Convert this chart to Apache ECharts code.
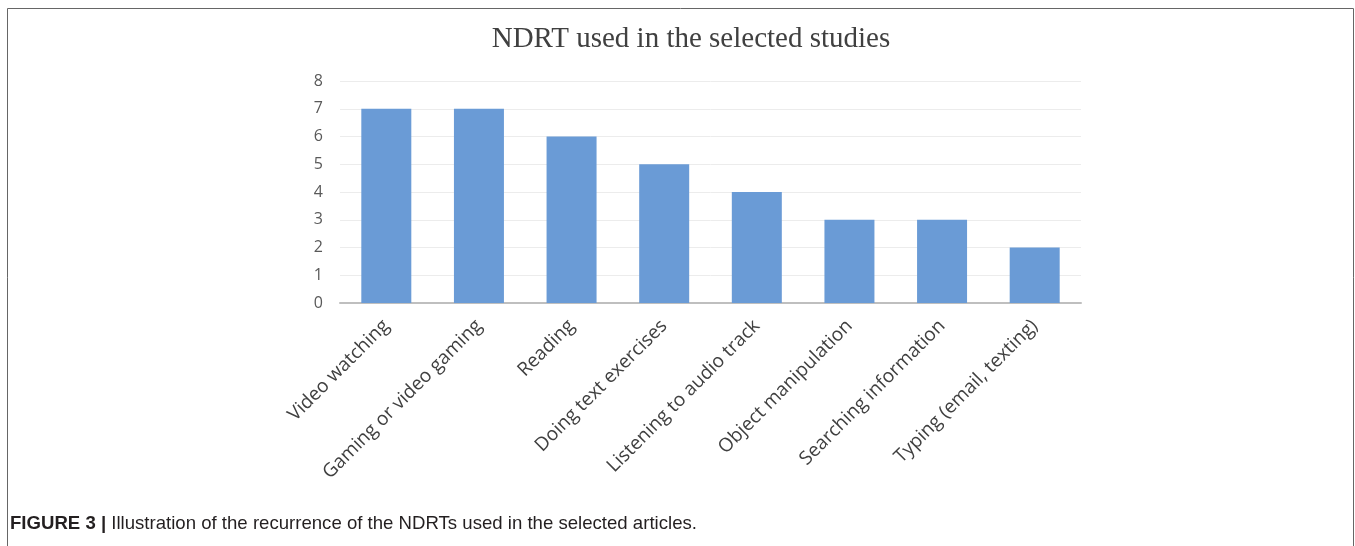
<!DOCTYPE html>
<html>
<head>
<meta charset="utf-8">
<script src="https://cdn.jsdelivr.net/npm/echarts@6/dist/echarts.min.js"></script>
<style>
  html, body { margin: 0; padding: 0; background: #fff; }
  #main { width: 1355px; height: 546px; }
</style>
</head>
<body>
<div id="main"></div>
<script>
// tasks and how many studies used each one
var categories = ['Video watching', 'Gaming or video gaming', 'Reading', 'Doing text exercises',
  'Listening to audio track', 'Object manipulation', 'Searching information', 'Typing (email, texting)'];
var counts = [7, 7, 6, 5, 4, 3, 3, 2];
var yTicks = [0, 1, 2, 3, 4, 5, 6, 7, 8];

var myChart = echarts.init(document.getElementById('main'));
var option = {
  backgroundColor: '#fff',
  title: {
    text: 'NDRT used in the selected studies',
    left: 686,
    top: 20,
    textAlign: 'center',
    textStyle: {
      fontFamily: 'Liberation Serif, Times New Roman, serif',
      fontWeight: 'normal',
      fontSize: 29,
      color: '#404040'
    }
  },
  grid: { left: 340, top: 81, width: 741, height: 222 },
  xAxis: {
    type: 'category',
    data: categories,
    axisLine: { lineStyle: { color: '#bfbfbf', width: 2 } },
    axisTick: { show: false },
    axisLabel: {
      interval: 0,
      rotate: 45,
      margin: 20,
      fontFamily: 'Open Sans, sans-serif',
      fontSize: 19,
      color: '#404040'
    }
  },
  yAxis: {
    type: 'value',
    min: yTicks[0],
    max: yTicks[yTicks.length - 1],
    interval: 1,
    axisLine: { show: false },
    axisTick: { show: false },
    splitLine: { lineStyle: { color: '#ececec', width: 1 } },
    axisLabel: {
      margin: 17,
      fontFamily: 'Open Sans, sans-serif',
      fontSize: 16,
      color: '#595959'
    }
  },
  series: [{
    type: 'bar',
    data: counts,
    barWidth: 50,
    itemStyle: { color: '#6a9bd6' }
  }],
  graphic: [
    {
      type: 'rect',
      shape: { x: 7.5, y: 8.5, width: 1346, height: 560 },
      style: { fill: 'none', stroke: '#666', lineWidth: 1 }
    },
    {
      type: 'text',
      left: 10,
      top: 514,
      style: {
        text: '{b|FIGURE 3 |} Illustration of the recurrence of the NDRTs used in the selected articles.',
        font: '18.6px Arial, "Liberation Sans", sans-serif',
        fill: '#231f20',
        rich: {
          b: { fontWeight: 'bold', fontSize: 18.6, fontFamily: 'Arial, Liberation Sans, sans-serif', fill: '#231f20' }
        }
      }
    }
  ]
};
myChart.setOption(option);
</script>
</body>
</html>
